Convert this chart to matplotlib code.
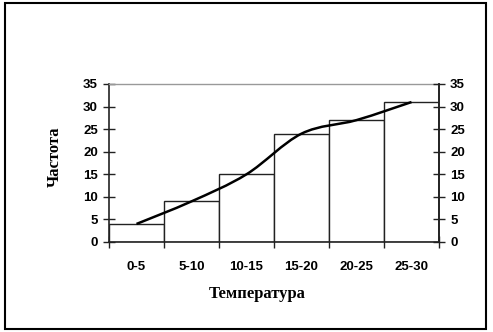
import numpy as np
import matplotlib
matplotlib.use("Agg")
import matplotlib.pyplot as plt
from matplotlib.path import Path
from matplotlib.patches import PathPatch, Rectangle

# Temperature bins and their frequencies
categories = ["0-5", "5-10", "10-15", "15-20", "20-25", "25-30"]
freq = [4, 9, 15, 24, 27, 31]

tick_font = {"family": ["Liberation Sans", "DejaVu Sans"], "weight": "bold", "size": 9.5}
label_font = {"family": ["Liberation Serif", "DejaVu Serif"], "weight": "bold", "size": 12}

fig = plt.figure(figsize=(4.93, 3.32), dpi=100)
ax = fig.add_axes([0.2211, 0.2711, 0.6694, 0.4759])

x = np.arange(len(categories))
ax.bar(x, freq, width=1.0, color="white", edgecolor="#222222", linewidth=1.0, zorder=2)

# smoothed line through bar centres (cubic Bezier segments, Catmull-Rom style)
pts = np.column_stack([x, freq]).astype(float)
verts = [tuple(pts[0])]
codes = [Path.MOVETO]
for i in range(len(pts) - 1):
    p0 = pts[i - 1] if i > 0 else pts[i]
    p1, p2 = pts[i], pts[i + 1]
    p3 = pts[i + 2] if i + 2 < len(pts) else pts[i + 1]
    c1 = p1 + (p2 - p0) / 6.0
    c2 = p2 - (p3 - p1) / 6.0
    verts += [tuple(c1), tuple(c2), tuple(p2)]
    codes += [Path.CURVE4] * 3
ax.add_patch(PathPatch(Path(verts, codes), facecolor="none", edgecolor="black",
                       linewidth=1.8, zorder=3))

ax.set_xlim(-0.5, len(categories) - 0.5)
ax.set_ylim(0, 35)
ax.set_yticks(range(0, 36, 5))
ax.set_xticks(np.arange(-0.5, len(categories)))
ax.set_xticklabels([])
ax.set_xticks(x, minor=True)
ax.set_xticklabels(categories, minor=True, fontdict=tick_font)
ax.tick_params(axis="x", which="minor", length=0, pad=14)
ax.tick_params(axis="x", which="major", direction="inout", length=9, width=1, color="#222222")
ax.tick_params(axis="y", direction="inout", length=8, width=1, color="#222222", pad=4)
for lab in ax.get_yticklabels():
    lab.set_fontproperties(matplotlib.font_manager.FontProperties(**tick_font))

for side in ["left", "bottom", "right"]:
    ax.spines[side].set_color("#222222")
    ax.spines[side].set_linewidth(1.2)
ax.spines["top"].set_color("#999999")
ax.spines["top"].set_linewidth(1.0)

# right-hand copy of the frequency axis
ax2 = ax.twinx()
ax2.set_ylim(0, 35)
ax2.set_yticks(range(0, 36, 5))
ax2.tick_params(axis="y", direction="inout", length=8, width=1, color="#222222", pad=4)
for lab in ax2.get_yticklabels():
    lab.set_fontproperties(matplotlib.font_manager.FontProperties(**tick_font))
for side in ["left", "top", "bottom"]:
    ax2.spines[side].set_visible(False)
ax2.spines["right"].set_color("#222222")
ax2.spines["right"].set_linewidth(1.2)

fig.text(0.5213, 0.114, "Температура", ha="center", va="center", fontdict=label_font)
fig.text(0.1116, 0.527, "Частота", ha="center", va="center", rotation=90, fontdict=label_font)

# outer frame
fig.patches.append(Rectangle((4.5 / 493, 3 / 332), 481 / 493, 326 / 332,
                             transform=fig.transFigure, fill=False,
                             edgecolor="black", linewidth=1.5))

fig.savefig("out.png", dpi=100)
